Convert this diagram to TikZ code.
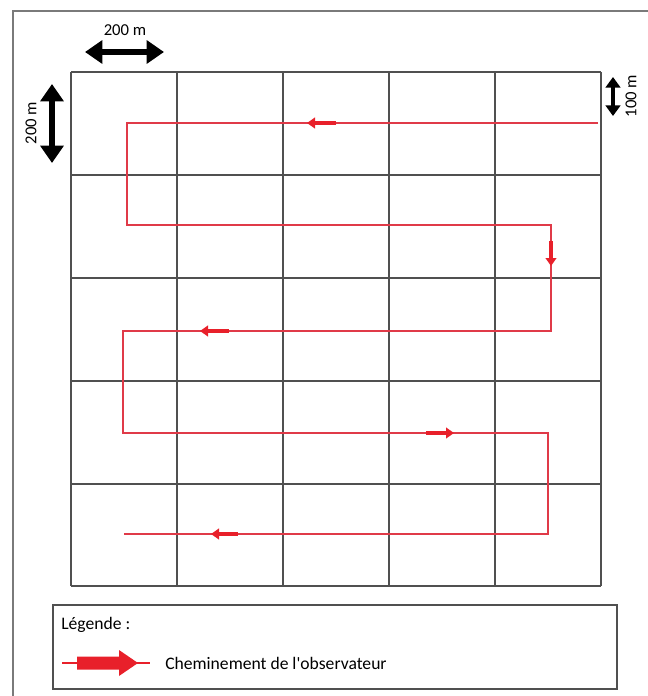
\documentclass[tikz,border=0pt]{standalone}
\usepackage{fontspec}
\setmainfont{Carlito}
\usetikzlibrary{arrows.meta}
\definecolor{gridgray}{HTML}{505050}
\definecolor{framegray}{HTML}{7A7A7A}
\definecolor{pathred}{HTML}{E03A48}
\definecolor{arrowred}{HTML}{E8202A}
\tikzset{
  gridline/.style={draw=gridgray, line width=1.4pt},
  route/.style={draw=pathred, line width=1.1pt},
  dirarrow/.style={draw=arrowred, line width=3.6pt, -{Triangle[length=6pt,width=8pt]}},
  scalearrow/.style={draw=black, line width=4.5pt, {Triangle[length=13pt,width=17pt]}-{Triangle[length=13pt,width=17pt]}},
  scalearrowsmall/.style={draw=black, line width=3.5pt, {Triangle[length=8pt,width=11pt]}-{Triangle[length=8pt,width=11pt]}},
  lbl/.style={font=\fontsize{12.5}{14}\selectfont, inner sep=0pt},
  leglbl/.style={font=\fontsize{13.2}{15}\selectfont, inner sep=0pt}
}
\begin{document}
\begin{tikzpicture}[x=0.75pt, y=-0.75pt]
\useasboundingbox (0,0) rectangle (647,696);
% outer frame (right and bottom edges fall outside the picture)
\draw[framegray, line width=1.5pt] (13,11) rectangle (660,710);
% grid
\foreach \x in {71,177,283,389,495,601} \draw[gridline] (\x,72) -- (\x,586);
\foreach \y in {72,175,278,381,484,586} \draw[gridline] (71,\y) -- (601,\y);
% route
\coordinate (p0) at (598,123);
\coordinate (p1) at (127,123);
\coordinate (p2) at (127,225);
\coordinate (p3) at (551,225);
\coordinate (p4) at (551,331);
\coordinate (p5) at (123,331);
\coordinate (p6) at (123,433);
\coordinate (p7) at (548,433);
\coordinate (p8) at (548,534);
\coordinate (p9) at (124,534);
\draw[route] (p0) -- (p1) -- (p2) -- (p3) -- (p4) -- (p5) -- (p6) -- (p7) -- (p8) -- (p9);
% direction arrows
\coordinate (a1s) at (336,123); \coordinate (a1e) at (307,123);
\coordinate (a2s) at (551,241); \coordinate (a2e) at (551,266);
\coordinate (a3s) at (229,331); \coordinate (a3e) at (200,331);
\coordinate (a4s) at (426,433); \coordinate (a4e) at (454,433);
\coordinate (a5s) at (238,534); \coordinate (a5e) at (211,534);
\draw[dirarrow] (a1s) -- (a1e);
\draw[dirarrow] (a2s) -- (a2e);
\draw[dirarrow] (a3s) -- (a3e);
\draw[dirarrow] (a4s) -- (a4e);
\draw[dirarrow] (a5s) -- (a5e);
% scale arrows
\coordinate (h1) at (85,52); \coordinate (h2) at (164,52);
\draw[scalearrow] (h1) -- (h2);
\node[lbl] (t200h) at (125,30) {200 m};
\coordinate (v1) at (52,84); \coordinate (v2) at (52,163);
\draw[scalearrow] (v1) -- (v2);
\node[lbl, rotate=90] (t200v) at (31,123) {200 m};
\coordinate (r1) at (613,77); \coordinate (r2) at (613,116);
\draw[scalearrowsmall] (r1) -- (r2);
\node[lbl, rotate=90] (t100) at (631,96) {100 m};
% legend
\draw[gridgray, line width=1.4pt] (53,605) rectangle (617,689);
\node[leglbl, anchor=west] (leg) at (61,625) {Légende :};
\coordinate (l0) at (62,663); \coordinate (l1) at (150,663);
\draw[arrowred, line width=1.1pt] (l0) -- (l1);
\fill[arrowred] (77,656.5) -- (119,656.5) -- (119,650) -- (138,663) -- (119,676) -- (119,669.5) -- (77,669.5) -- cycle;
\node[leglbl, anchor=west] (legtxt) at (165,663) {Cheminement de l\textquotesingle observateur};
\end{tikzpicture}
\end{document}
